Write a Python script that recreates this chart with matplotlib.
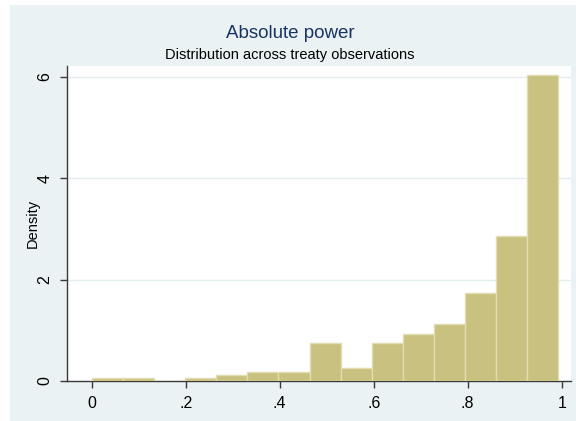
import matplotlib
matplotlib.use('Agg')
import matplotlib.pyplot as plt
from matplotlib.patches import Rectangle
import numpy as np

plt.rcParams['font.family'] = ['Liberation Sans', 'DejaVu Sans']

# histogram of absolute power, 15 equal-width bins over the observed range
bin_lo = 0.0
bin_hi = 0.993
counts = [1, 1, 0, 1, 2, 3, 3, 12, 4, 12, 15, 18, 28, 46, 97]

xticks = [0, 0.2, 0.4, 0.6, 0.8, 1.0]
xticklabels = ['0', '.2', '.4', '.6', '.8', '1']
yticks = [0, 2, 4, 6]

bg = '#EAF2F3'
bar_color = '#C9C17F'
bar_edge = '#E2DDB0'
axis_color = '#3a3a3a'

W, H = 576, 421
fig = plt.figure(figsize=(W / 100, H / 100), dpi=100, facecolor='white')
fig.patches.append(Rectangle((10 / W, 0), 1 - 10 / W, 1 - 5 / H,
                             transform=fig.transFigure, facecolor=bg,
                             edgecolor='none', zorder=-10))

left, right, top, bottom = 66.5, 571, 65.7, 381
ax = fig.add_axes([left / W, 1 - bottom / H, (right - left) / W, (bottom - top) / H])
ax.set_facecolor('white')

edges = np.linspace(bin_lo, bin_hi, len(counts) + 1)
width = edges[1] - edges[0]
n = sum(counts)
density = np.array(counts) / (n * width)
ax.bar(edges[:-1], density, width=width, align='edge', color=bar_color,
       edgecolor=bar_edge, linewidth=1.0, zorder=3)

ax.set_xlim(-0.0537, 1.0198)
ax.set_ylim(0, 6.219)

for y in yticks[1:]:
    ax.axhline(y, color='#E3EDEF', linewidth=1.0, zorder=1)

for s in ['top', 'right']:
    ax.spines[s].set_visible(False)
for s in ['left', 'bottom']:
    ax.spines[s].set_color(axis_color)
    ax.spines[s].set_linewidth(1.0)

ax.set_xticks(xticks)
ax.set_xticklabels(xticklabels, fontsize=11.5)
ax.set_yticks(yticks)
ax.set_yticklabels([str(v) for v in yticks], fontsize=11.5, rotation=90, va='center')
ax.tick_params(axis='both', direction='out', length=5, width=1.0,
               color=axis_color, labelcolor='black')
ax.tick_params(axis='x', pad=6)
ax.tick_params(axis='y', pad=5)

ax.set_ylabel('Density', fontsize=10.5, va='center')
ax.yaxis.set_label_coords((33 - left) / (right - left), 0.5)

fig.text(290 / W, 1 - 38 / H, 'Absolute power', ha='center', va='baseline',
         fontsize=13.5, color='#1A3563')
fig.text(290 / W, 1 - 59 / H, 'Distribution across treaty observations',
         ha='center', va='baseline', fontsize=10.5, color='black')

fig.savefig('out.png', dpi=100, facecolor=fig.get_facecolor())
